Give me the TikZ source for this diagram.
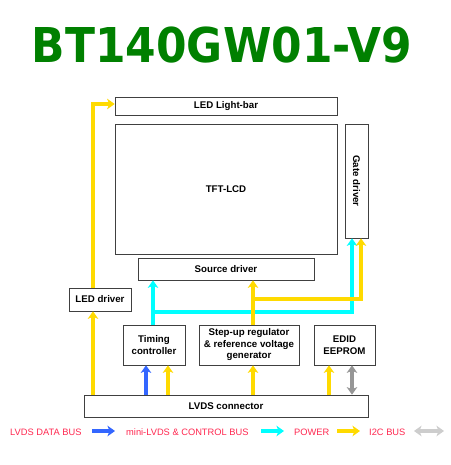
\documentclass[tikz,border=0pt]{standalone}
\usepackage{fontspec}
\setmainfont{Liberation Sans}
\newfontfamily\titlefont{DejaVu Sans}
\usetikzlibrary{arrows.meta}
\definecolor{ttlgreen}{RGB}{0,128,0}
\definecolor{busyellow}{RGB}{255,218,0}
\definecolor{buscyan}{RGB}{0,255,255}
\definecolor{busblue}{RGB}{51,102,255}
\definecolor{busgray}{RGB}{150,150,150}
\definecolor{leggray}{RGB}{205,205,205}
\definecolor{legred}{RGB}{255,40,80}
\tikzset{
  blk/.style={draw=black!75, line width=0.7pt, fill=white, inner sep=0pt, align=center,
    font=\bfseries\fontsize{9.7}{11.5}\selectfont},
  bus/.style={line width=3.6pt, -{Stealth[length=7.5pt,width=10.5pt,inset=2pt]}},
  dbus/.style={line width=3.6pt, {Stealth[length=7.5pt,width=10.5pt,inset=2pt]}-{Stealth[length=7.5pt,width=10.5pt,inset=2pt]}},
  legtxt/.style={text=legred, font=\fontsize{9.3}{10}\selectfont, inner sep=0pt},
}
\begin{document}
\begin{tikzpicture}[x=1pt,y=-1pt]
\useasboundingbox[fill=white] (0,0) rectangle (450,465);
\node[inner sep=0pt, text=ttlgreen] (title) at (222,45)
  {\scalebox{0.915}[1]{\titlefont\bfseries\fontsize{48}{50}\selectfont BT140GW01-V9}};

\node[blk, minimum width=222, minimum height=18] (lightbar) at (226,106) {LED Light-bar};
\node[blk, minimum width=222, minimum height=130] (tft) at (226,189) {TFT-LCD};
\node[blk, minimum width=23, minimum height=114] (gate) at (356.5,181) {};
\node[font=\bfseries\fontsize{9.7}{11.5}\selectfont, rotate=-90, inner sep=0pt] (gatetxt) at (gate.center) {Gate driver};
\node[blk, minimum width=176, minimum height=22] (source) at (226,269) {Source driver};
\node[blk, minimum width=62, minimum height=23] (leddrv) at (100,299.5) {LED driver};
\node[blk, minimum width=62, minimum height=40] (timing) at (154,345) {Timing\\controller};
\node[blk, minimum width=100, minimum height=40] (stepup) at (249,345) {Step-up regulator\\\& reference voltage\\generator};
\node[blk, minimum width=61, minimum height=40] (edid) at (344.5,345) {EDID\\EEPROM};
\node[blk, minimum width=284, minimum height=22] (lvds) at (226,406) {LVDS connector};

% bus x positions and levels
\coordinate (xled) at (93,0);
\coordinate (xblue) at (146,0);
\coordinate (xcy) at (153,0);
\coordinate (xty) at (168,0);
\coordinate (xsy) at (253,0);
\coordinate (xey) at (329,0);
\coordinate (xgr) at (352,0);
\coordinate (xgc) at (352,0);
\coordinate (xgy) at (361,0);
\coordinate (ylb) at (0,104);
\coordinate (ycy) at (0,312);
\coordinate (yyy) at (0,299);

% LED power
\draw[bus, busyellow] (lvds.north -| xled) -- (leddrv.south -| xled);
\draw[bus, busyellow] (leddrv.north -| xled) -- (xled |- ylb) -- (lightbar.west |- ylb);
% LVDS data and power to timing controller
\draw[bus, busblue] (lvds.north -| xblue) -- (timing.south -| xblue);
\draw[bus, busyellow] (lvds.north -| xty) -- (timing.south -| xty);
\draw[bus, busyellow] (lvds.north -| xsy) -- (stepup.south -| xsy);
\draw[bus, busyellow] (lvds.north -| xey) -- (edid.south -| xey);
\draw[dbus, busgray] (lvds.north -| xgr) -- (edid.south -| xgr);
% mini-LVDS & control
\draw[bus, buscyan] (timing.north -| xcy) -- (source.south -| xcy);
\draw[bus, buscyan] (xcy |- ycy) -- (xgc |- ycy) -- (gate.south -| xgc);
% power from step-up
\draw[bus, busyellow] (stepup.north -| xsy) -- (source.south -| xsy);
\draw[bus, busyellow] (xsy |- yyy) -- (xgy |- yyy) -- (gate.south -| xgy);

% legend
\node[legtxt, anchor=west] (l1) at (10,432) {LVDS DATA BUS};
\coordinate (a1s) at (92,431);
\coordinate (a1e) at (115,431);
\draw[bus, busblue, line width=4.2pt] (a1s) -- (a1e);
\node[legtxt, anchor=west] (l2) at (126,432) {mini-LVDS \& CONTROL BUS};
\coordinate (a2s) at (261,431);
\coordinate (a2e) at (284,431);
\draw[bus, buscyan, line width=4.2pt] (a2s) -- (a2e);
\node[legtxt, anchor=west] (l3) at (294,432) {POWER};
\coordinate (a3s) at (337,431);
\coordinate (a3e) at (360,431);
\draw[bus, busyellow, line width=4.2pt] (a3s) -- (a3e);
\node[legtxt, anchor=west] (l4) at (369,432) {I2C BUS};
\coordinate (a4s) at (414,431);
\coordinate (a4e) at (444,431);
\draw[dbus, leggray, line width=4.2pt] (a4s) -- (a4e);
\end{tikzpicture}
\end{document}
